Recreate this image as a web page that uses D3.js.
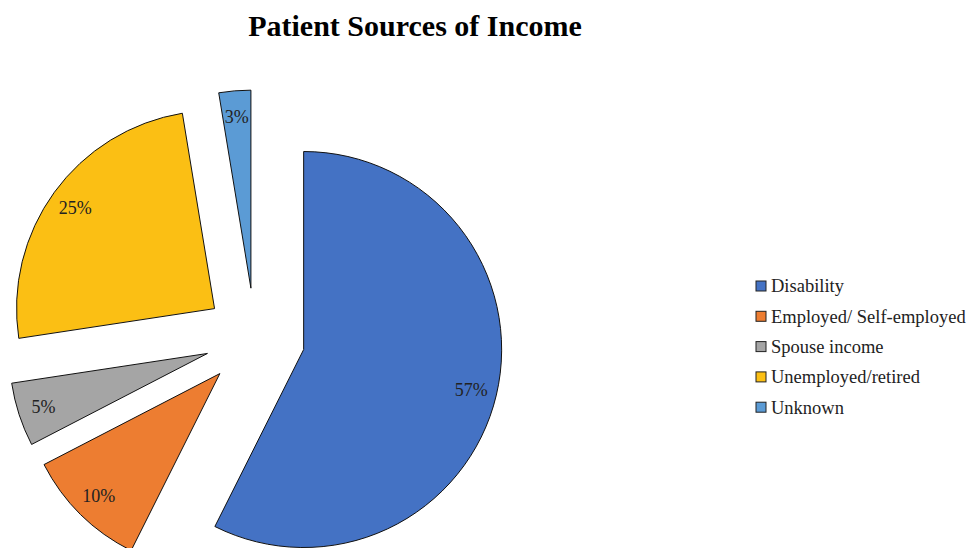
<!DOCTYPE html>
<html>
<head>
<meta charset="utf-8">
<script src="https://cdn.jsdelivr.net/npm/d3@7"></script>
<style>
  body { margin: 0; background: #fff; }
  svg { display: block; }
  text { font-family: "Liberation Serif", "DejaVu Serif", serif; }
</style>
</head>
<body>
<div class="chart"></div>
<script>
// data (percent of patients)
var categories = ["Disability", "Employed/ Self-employed", "Spouse income", "Unemployed/retired", "Unknown"];
var values = [57.4, 10.0, 5.2, 24.8, 2.6];
var colors = ["#4472C4", "#ED7D31", "#A5A5A5", "#FBBF14", "#5B9BD5"];

var width = 969,
  height = 548;

var cx = 255, cy = 338,
  radius = 198,
  explode = 50;

var serif = "Liberation Serif";

var svg = d3
  .select(".chart")
  .append("svg")
  .attr("width", width)
  .attr("height", height);

// title
svg
  .append("text")
  .attr("x", 415)
  .attr("y", 36)
  .attr("text-anchor", "middle")
  .attr("font-family", serif)
  .attr("font-size", "30px")
  .attr("font-weight", "bold")
  .text("Patient Sources of Income");

var pie = d3.pie().sort(null).value(function (d) { return d; });
var arc = d3.arc().innerRadius(0).outerRadius(radius);
var pct = d3.format(".0%");

var arcs = pie(values);

var g = svg.append("g").attr("transform", "translate(" + cx + "," + cy + ")");

var slice = g
  .selectAll(".slice")
  .data(arcs)
  .enter()
  .append("g")
  .attr("class", "slice")
  .attr("transform", function (d) {
    var a = (d.startAngle + d.endAngle) / 2;
    return "translate(" + explode * Math.sin(a) + "," + -explode * Math.cos(a) + ")";
  });

slice
  .append("path")
  .attr("d", arc)
  .attr("fill", function (d, i) { return colors[i]; })
  .attr("stroke", "#111")
  .attr("stroke-width", 1);

// labels near the outer edge of each slice
slice
  .append("text")
  .attr("transform", function (d) {
    var a = (d.startAngle + d.endAngle) / 2;
    var r = radius * 0.87;
    return "translate(" + r * Math.sin(a) + "," + -r * Math.cos(a) + ")";
  })
  .attr("dy", "0.35em")
  .attr("text-anchor", "middle")
  .attr("font-family", serif)
  .attr("font-size", "18px")
  .attr("fill", "#222")
  .text(function (d) { return pct(d.value / 100); });

// legend
var legend = svg
  .selectAll(".legend")
  .data(categories)
  .enter()
  .append("g")
  .attr("class", "legend")
  .attr("transform", function (d, i) { return "translate(756," + (286 + i * 30.3) + ")"; });

legend
  .append("rect")
  .attr("x", 0)
  .attr("y", -5)
  .attr("width", 10)
  .attr("height", 10)
  .attr("fill", function (d, i) { return colors[i]; })
  .attr("stroke", "#222")
  .attr("stroke-width", 1);

legend
  .append("text")
  .attr("x", 15)
  .attr("dy", "0.35em")
  .attr("font-family", serif)
  .attr("font-size", "18.5px")
  .attr("fill", "#222")
  .text(function (d) { return d; });
</script>
</body>
</html>
